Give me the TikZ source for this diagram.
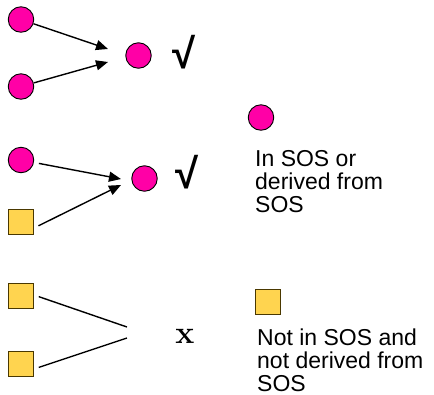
\documentclass[tikz,border=0pt]{standalone}
\usepackage{fontspec}
\setmainfont{Liberation Sans}
\newfontfamily\serifx{Latin Modern Roman}
\usetikzlibrary{arrows.meta}
\definecolor{sosmagenta}{HTML}{FF00A6}
\definecolor{sosgold}{HTML}{FFD44F}
\definecolor{sosedge}{HTML}{4A3800}
\tikzset{
  dot/.style={circle,draw=black,line width=0.9pt,fill=sosmagenta,minimum size=25.5pt,inner sep=0pt},
  sqbox/.style={rectangle,draw=sosedge,line width=1pt,fill=sosgold,minimum size=25pt,inner sep=0pt},
  link/.style={line width=1.4pt},
  lbl/.style={anchor=base west,inner sep=0pt,align=left,font=\fontsize{23}{23}\selectfont},
  tick/.style={inner sep=0pt,font=\bfseries\fontsize{42}{42}\selectfont}
}
\begin{document}
\begin{tikzpicture}[x=1pt,y=-1pt,>={Triangle[length=12pt,width=10pt]}]
\useasboundingbox (0,0) rectangle (434,394);
% first case
\node[dot] (a1) at (21,19.5) {};
\node[dot] (a2) at (21,86.5) {};
\node[dot] (a3) at (138.5,55.5) {};
\node[tick] (ok1) at (184,52) {√};
\coordinate (e1) at (108,49);
\coordinate (e2) at (108,62);
\draw[link,->] (a1) -- (e1);
\draw[link,->] (a2) -- (e2);
% second case
\node[dot] (b1) at (21,160) {};
\node[sqbox] (b2) at (21,222) {};
\node[dot] (b3) at (144.5,178.5) {};
\node[tick] (ok2) at (187,172) {√};
\coordinate (f1) at (121,179);
\coordinate (f2) at (121,185);
\draw[link,->,shorten <=5pt] (b1) -- (f1);
\draw[link,->,shorten <=5pt] (b2.east |- 0,228) -- (f2);
% third case
\node[sqbox] (c1) at (21,296) {};
\node[sqbox] (c2) at (21,364) {};
\node[inner sep=0pt,font=\serifx\fontsize{32}{32}\selectfont\bfseries] (no) at (185,336) {x};
\coordinate (g1) at (127,327);
\coordinate (g2) at (127,338);
\draw[link,shorten <=5pt] (c1.east |- 0,295) -- (g1);
\draw[link,shorten <=5pt] (c2.east |- 0,369) -- (g2);
% legend
\node[dot] (k1) at (261,117.5) {};
\node[lbl] (t1) at (255,212) {In SOS or\\derived from\\SOS};
\node[sqbox] (k2) at (267.5,302) {};
\node[lbl] (t2) at (257,391) {Not in SOS and\\not derived from\\SOS};
\end{tikzpicture}
\end{document}
